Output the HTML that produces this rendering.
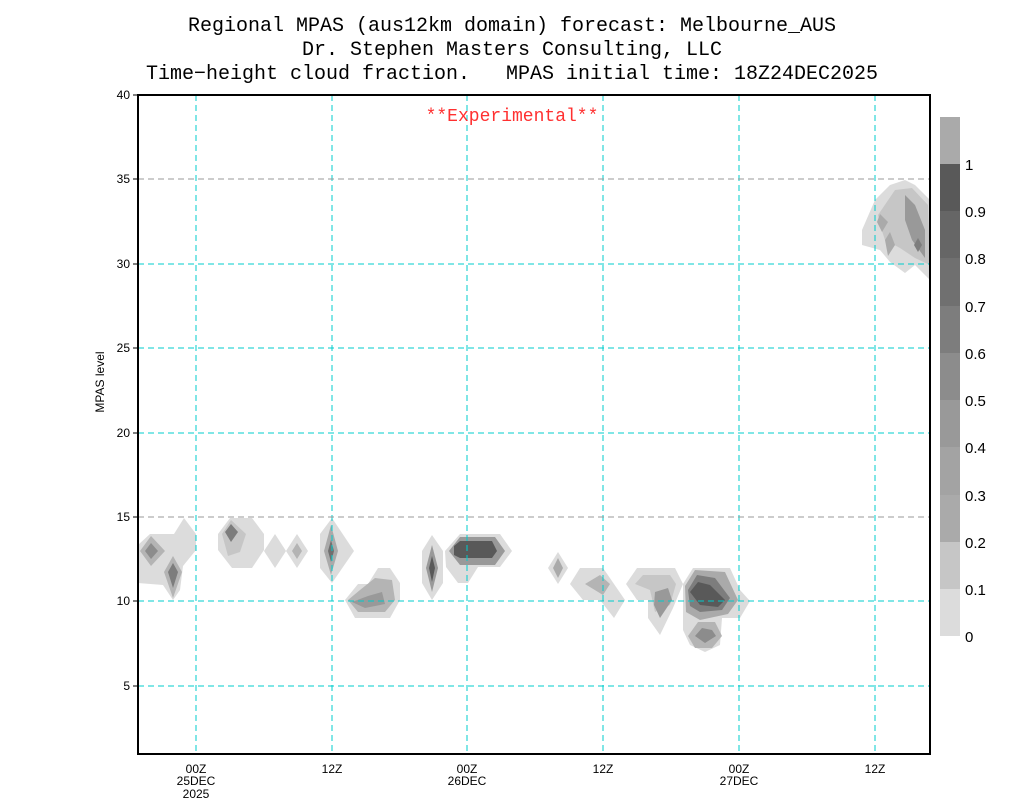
<!DOCTYPE html>
<html><head><meta charset="utf-8"><style>
body{margin:0;background:#fff;}
svg text{font-family:"Liberation Sans",sans-serif;}
svg text.m{font-family:"Liberation Mono",monospace;}
</style></head><body>
<svg width="1024" height="800" xmlns="http://www.w3.org/2000/svg">
<rect width="1024" height="800" fill="#fff"/>
<g font-size="20" text-anchor="middle" fill="#000">
<text class="m" x="512" y="31">Regional MPAS (aus12km domain) forecast: Melbourne_AUS</text>
<text class="m" x="512" y="55">Dr. Stephen Masters Consulting, LLC</text>
<text class="m" x="512" y="79" xml:space="preserve">Time−height cloud fraction.   MPAS initial time: 18Z24DEC2025</text>
</g>
<!-- blobs -->
<g stroke="none">
<polygon fill="#dcdcdc" points="138,583 138,545 150,534 174,534 184,518 196,534 196,550 183,566 180,590 173,600 163,585 138,583"/>
<polygon fill="#b4b4b4" points="140,551 151,536 165,551 151,566"/>
<polygon fill="#8c8c8c" points="145,551 151,543 158,551 151,559"/>
<polygon fill="#b4b4b4" points="173,556 182,572 173,598 164,572"/>
<polygon fill="#7d7d7d" points="173,563 178,572 173,588 168,572"/>
<polygon fill="#dcdcdc" points="218,534 230,518 252,518 264,534 264,550 252,568 232,568 218,550"/>
<polygon fill="#c6c6c6" points="222,534 231,520 246,534 240,552 228,556"/>
<polygon fill="#7d7d7d" points="231,524 238,532 231,542 225,532"/>
<polygon fill="#dcdcdc" points="275,534 286,551 275,568 264,551"/>
<polygon fill="#dcdcdc" points="297,534 308,551 297,568 286,551"/>
<polygon fill="#b4b4b4" points="297,543 302,551 297,559 292,551"/>
<polygon fill="#dcdcdc" points="332,518 354,551 332,583 320,568 320,534"/>
<polygon fill="#aaa" points="331,525 338,551 331,575 324,551"/>
<polygon fill="#707070" points="331,540 334,551 331,562 328,551"/>
<polygon fill="#dcdcdc" points="345,600 358,584 368,584 378,568 390,568 400,583 400,600 390,618 355,618"/>
<polygon fill="#b4b4b4" points="348,600 360,590 375,578 392,580 395,600 385,612 358,612"/>
<polygon fill="#999" points="352,602 368,596 382,592 385,604 365,608"/>
<polygon fill="#dcdcdc" points="432,535 443,551 443,583 432,600 422,583 422,551"/>
<polygon fill="#999" points="432,545 438,568 432,592 426,568"/>
<polygon fill="#595959" points="432,556 435,568 432,582 429,568"/>
<polygon fill="#dcdcdc" points="445,551 460,534 500,534 512,551 500,567 478,567 468,583 458,583 446,567"/>
<polygon fill="#999" points="449,551 460,537 495,537 505,551 495,565 460,565"/>
<polygon fill="#595959" points="454,546 460,541 492,541 497,551 492,558 460,558 454,555"/>
<polygon fill="#dcdcdc" points="558,552 568,568 558,584 548,568"/>
<polygon fill="#aaa" points="558,558 563,568 558,578 553,568"/>
<polygon fill="#dcdcdc" points="570,584 580,568 603,568 625,600 614,618 600,600 583,600"/>
<polygon fill="#b4b4b4" points="585,584 600,575 610,584 603,595"/>
<polygon fill="#dcdcdc" points="626,584 637,568 675,568 683,584 673,608 660,635 648,618 648,600 637,600"/>
<polygon fill="#c6c6c6" points="635,584 643,575 670,575 676,584 670,605 655,612 650,590"/>
<polygon fill="#999" points="655,592 668,588 672,600 660,618 654,605"/>
<polygon fill="#dcdcdc" points="683,584 693,568 730,568 740,590 750,601 740,618 722,618 720,645 705,652 690,645 683,630"/>
<polygon fill="#aaa" points="685,586 695,570 725,572 738,600 728,614 700,620 686,612"/>
<polygon fill="#7d7d7d" points="688,590 697,575 715,578 730,598 722,610 700,612 690,606"/>
<polygon fill="#595959" points="690,592 698,582 710,585 725,600 718,607 700,605"/>
<polygon fill="#b4b4b4" points="688,636 698,622 715,622 722,636 712,648 695,648"/>
<polygon fill="#8c8c8c" points="695,636 702,628 712,630 716,636 705,643"/>
<polygon fill="#dcdcdc" points="862,230 875,200 890,185 905,180 915,185 930,200 930,280 915,265 905,273 890,262 880,250 862,245"/>
<polygon fill="#c6c6c6" points="878,215 895,190 912,188 928,205 930,265 915,258 900,248 885,240 880,225"/>
<polygon fill="#aaa" points="880,214 888,222 882,232 877,222"/>
<polygon fill="#aaa" points="885,240 890,232 895,245 888,256"/>
<polygon fill="#999" points="905,195 915,205 925,230 925,258 912,240 905,220"/>
<polygon fill="#7d7d7d" points="918,238 922,245 918,252 914,245"/>
</g>
<!-- grid -->
<g stroke-width="1" stroke-dasharray="6,4" fill="none">
<g stroke="#00cccc">
<line x1="196" y1="95" x2="196" y2="754"/><line x1="332" y1="95" x2="332" y2="754"/>
<line x1="467" y1="95" x2="467" y2="754"/><line x1="603" y1="95" x2="603" y2="754"/>
<line x1="739" y1="95" x2="739" y2="754"/><line x1="875" y1="95" x2="875" y2="754"/>
<line x1="138" y1="264" x2="930" y2="264"/><line x1="138" y1="348" x2="930" y2="348"/>
<line x1="138" y1="433" x2="930" y2="433"/><line x1="138" y1="686" x2="930" y2="686"/>
<line x1="138" y1="601" x2="930" y2="601"/>
</g>
<g stroke="#999">
<line x1="138" y1="179" x2="930" y2="179"/><line x1="138" y1="517" x2="930" y2="517"/>
</g>
</g>
<rect x="138" y="95" width="792" height="659" fill="none" stroke="#000" stroke-width="2"/>
<g font-size="12" text-anchor="end">
<text x="130" y="99">40</text><text x="130" y="183">35</text><text x="130" y="268">30</text>
<text x="130" y="352">25</text><text x="130" y="437">20</text><text x="130" y="521">15</text>
<text x="130" y="605">10</text><text x="130" y="690">5</text>
</g>
<g stroke="#000"><line x1="133" y1="95" x2="138" y2="95"/><line x1="133" y1="179" x2="138" y2="179"/><line x1="133" y1="264" x2="138" y2="264"/><line x1="133" y1="348" x2="138" y2="348"/><line x1="133" y1="433" x2="138" y2="433"/><line x1="133" y1="517" x2="138" y2="517"/><line x1="133" y1="601" x2="138" y2="601"/><line x1="133" y1="686" x2="138" y2="686"/></g>
<text x="104" y="382" font-size="12" text-anchor="middle" transform="rotate(-90 104 382)">MPAS level</text>
<g font-size="12" text-anchor="middle">
<text x="196" y="773">00Z</text><text x="196" y="785">25DEC</text><text x="196" y="798">2025</text>
<text x="332" y="773">12Z</text>
<text x="467" y="773">00Z</text><text x="467" y="785">26DEC</text>
<text x="603" y="773">12Z</text>
<text x="739" y="773">00Z</text><text x="739" y="785">27DEC</text>
<text x="875" y="773">12Z</text>
</g>
<text class="m" x="512" y="121" font-size="18" fill="#ff3030" text-anchor="middle">**Experimental**</text>
<!-- colorbar -->
<g>
<rect x="940" y="117" width="20" height="47" fill="#aaa"/>
<rect x="940" y="164" width="20" height="47" fill="#595959"/>
<rect x="940" y="211" width="20" height="47" fill="#666"/>
<rect x="940" y="258" width="20" height="48" fill="#707070"/>
<rect x="940" y="306" width="20" height="47" fill="#7d7d7d"/>
<rect x="940" y="353" width="20" height="47" fill="#8c8c8c"/>
<rect x="940" y="400" width="20" height="47" fill="#999"/>
<rect x="940" y="447" width="20" height="48" fill="#a3a3a3"/>
<rect x="940" y="495" width="20" height="47" fill="#aaa"/>
<rect x="940" y="542" width="20" height="47" fill="#c6c6c6"/>
<rect x="940" y="589" width="20" height="47" fill="#dcdcdc"/>
</g>
<g font-size="15" fill="#000">
<text x="965" y="170">1</text><text x="965" y="217">0.9</text><text x="965" y="264">0.8</text>
<text x="965" y="312">0.7</text><text x="965" y="359">0.6</text><text x="965" y="406">0.5</text>
<text x="965" y="453">0.4</text><text x="965" y="501">0.3</text><text x="965" y="548">0.2</text>
<text x="965" y="595">0.1</text><text x="965" y="642">0</text>
</g>
</svg>
</body></html>
